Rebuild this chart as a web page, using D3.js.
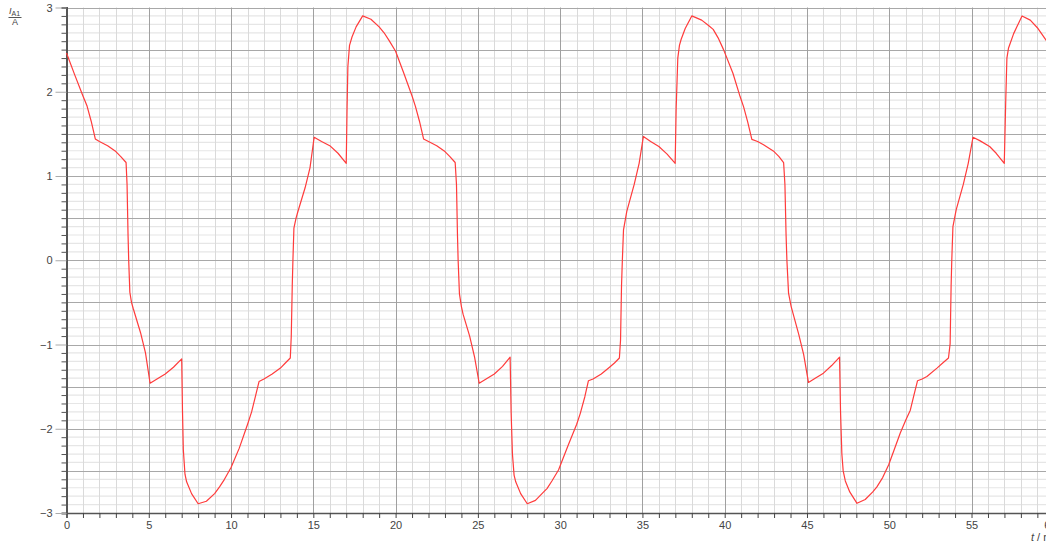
<!DOCTYPE html>
<html>
<head>
<meta charset="utf-8">
<script src="https://cdn.jsdelivr.net/npm/d3@7"></script>
<style>
  html, body { margin: 0; padding: 0; background: #fff; }
  svg { display: block; font-family: "Liberation Sans", Arial, sans-serif; }
</style>
</head>
<body>
<svg id="chart" width="1046" height="544"></svg>
<script>
// ---- data (time in ms, current in A) ----
const timeMs = [
  0, 0.5, 1.0, 1.25, 1.5, 1.75, 2.0, 2.5, 3.0, 3.3, 3.62, 3.68, 3.74, 3.78, 3.85, 3.95, 4.05, 4.5, 4.8, 5.08,
  5.5, 6.0, 6.5, 7.0, 7.05, 7.1, 7.2, 7.3, 7.6, 8.0, 8.5, 9.0, 9.3, 9.6, 10.0, 10.5, 11.0, 11.25, 11.5, 11.7,
  12.0, 12.5, 13.0, 13.3, 13.6, 13.66, 13.72, 13.76, 13.82, 13.95, 14.05, 14.5, 14.8, 15.05, 15.5, 16.0, 16.5, 17.0, 17.05, 17.1,
  17.2, 17.35, 17.6, 18.0, 18.5, 19.0, 19.3, 19.6, 20.0, 20.5, 21.0, 21.2, 21.45, 21.7, 22.0, 22.5, 23.0, 23.3, 23.62, 23.7,
  23.76, 23.8, 23.88, 24.0, 24.1, 24.5, 24.8, 25.08, 25.5, 26.0, 26.5, 26.96, 27.02, 27.1, 27.2, 27.3, 27.6, 28.0, 28.5, 29.0,
  29.2, 29.5, 29.9, 30.5, 31.0, 31.22, 31.5, 31.72, 32.0, 32.5, 33.0, 33.3, 33.6, 33.67, 33.73, 33.78, 33.85, 34.05, 34.5, 34.8,
  35.06, 35.5, 36.0, 36.5, 36.99, 37.05, 37.15, 37.25, 37.35, 37.6, 38.0, 38.6, 39.0, 39.3, 39.6, 39.93, 40.5, 40.94, 41.15, 41.4,
  41.65, 42.0, 42.36, 43.0, 43.3, 43.58, 43.66, 43.73, 43.78, 43.88, 44.04, 44.5, 44.8, 45.09, 45.5, 46.0, 46.5, 46.98, 47.04, 47.12,
  47.2, 47.33, 47.6, 48.04, 48.54, 49.0, 49.25, 49.6, 49.96, 50.3, 50.67, 51.0, 51.28, 51.5, 51.72, 52.0, 52.29, 52.9, 53.3, 53.6,
  53.7, 53.76, 53.8, 53.87, 54.07, 54.5, 54.8, 55.09, 55.5, 56.1, 56.5, 56.99, 57.08, 57.15, 57.25, 57.56, 58.07, 58.57, 59.0, 59.54,
  60.0
];
const currentA = [
  2.46, 2.2, 1.95, 1.83, 1.65, 1.44, 1.41, 1.36, 1.29, 1.23, 1.16, 0.9, 0.3, 0, -0.38, -0.5, -0.57, -0.86, -1.1, -1.46,
  -1.41, -1.35, -1.27, -1.17, -1.8, -2.25, -2.54, -2.63, -2.77, -2.89, -2.86, -2.77, -2.69, -2.6, -2.46, -2.23, -1.95, -1.8, -1.6, -1.44,
  -1.41, -1.35, -1.28, -1.22, -1.16, -0.9, -0.3, 0, 0.38, 0.5, 0.57, 0.86, 1.1, 1.46, 1.41, 1.36, 1.27, 1.15, 1.8, 2.3,
  2.55, 2.65, 2.77, 2.9, 2.86, 2.77, 2.7, 2.61, 2.48, 2.22, 1.95, 1.83, 1.65, 1.44, 1.41, 1.36, 1.29, 1.23, 1.16, 0.9,
  0.3, 0, -0.4, -0.55, -0.64, -0.9, -1.15, -1.46, -1.41, -1.35, -1.26, -1.15, -1.8, -2.3, -2.55, -2.63, -2.77, -2.89, -2.85, -2.75,
  -2.71, -2.62, -2.49, -2.19, -1.95, -1.82, -1.62, -1.43, -1.41, -1.35, -1.27, -1.22, -1.16, -0.95, -0.3, 0, 0.36, 0.58, 0.9, 1.15,
  1.47, 1.41, 1.35, 1.26, 1.15, 1.8, 2.4, 2.55, 2.62, 2.75, 2.9, 2.85, 2.79, 2.74, 2.64, 2.5, 2.22, 1.94, 1.82, 1.64,
  1.435, 1.41, 1.37, 1.29, 1.23, 1.16, 0.9, 0.3, 0, -0.39, -0.55, -0.88, -1.12, -1.45, -1.4, -1.34, -1.25, -1.15, -1.8, -2.3,
  -2.5, -2.62, -2.75, -2.885, -2.84, -2.75, -2.69, -2.58, -2.43, -2.25, -2.05, -1.9, -1.78, -1.6, -1.43, -1.41, -1.38, -1.28, -1.21, -1.16,
  -0.99, -0.3, 0, 0.4, 0.6, 0.9, 1.15, 1.46, 1.42, 1.35, 1.27, 1.15, 1.9, 2.4, 2.52, 2.69, 2.9, 2.85, 2.76, 2.61,
  2.47
];
const xTickLabels = [0, 5, 10, 15, 20, 25, 30, 35, 40, 45, 50, 55, 60];
const yTickLabels = [-3, -2, -1, 0, 1, 2, 3];

// ---- layout ----
const svg = d3.select("#chart");
const x = d3.scaleLinear().domain([0, 60]).range([66.5, 1053.8]);
const y = d3.scaleLinear().domain([-3, 3]).range([513, 7.5]);
const crisp = v => Math.round(v) + 0.5;

const grid = svg.append("g");
// minor horizontal lines every 0.1
grid.selectAll("line.hmin").data(d3.range(-29, 30).filter(i => i % 5 !== 0).map(i => i / 10))
  .join("line").attr("class", "hmin")
  .attr("x1", x(0)).attr("x2", 1046)
  .attr("y1", d => y(d)).attr("y2", d => y(d))
  .attr("stroke", "#e6e6e6").attr("stroke-width", 1.2);
// minor vertical lines every 1 ms
grid.selectAll("line.vmin").data(d3.range(1, 61).filter(i => i % 5 !== 0))
  .join("line").attr("class", "vmin")
  .attr("x1", d => crisp(x(d))).attr("x2", d => crisp(x(d)))
  .attr("y1", y(3)).attr("y2", y(-3))
  .attr("stroke", "#dadada").attr("stroke-width", 1);
// major horizontal every 0.5
grid.selectAll("line.hmaj").data(d3.range(-5, 7).map(i => i / 2))
  .join("line").attr("class", "hmaj")
  .attr("x1", x(0)).attr("x2", 1046)
  .attr("y1", d => crisp(y(d))).attr("y2", d => crisp(y(d)))
  .attr("stroke", "#a8a8a8").attr("stroke-width", 1);
// major vertical every 5 ms
grid.selectAll("line.vmaj").data(xTickLabels.filter(d => d > 0))
  .join("line").attr("class", "vmaj")
  .attr("x1", d => crisp(x(d))).attr("x2", d => crisp(x(d)))
  .attr("y1", y(3)).attr("y2", y(-3))
  .attr("stroke", "#a0a0a0").attr("stroke-width", 1);

// ---- axes ----
const xAxis = d3.axisBottom(x)
  .tickValues(d3.range(0, 61))
  .tickSize(5).tickPadding(3)
  .tickFormat(d => xTickLabels.includes(d) ? d : "");
const gx = svg.append("g").attr("transform", `translate(0,${y(-3)})`).call(xAxis);
gx.select(".domain").attr("stroke", "#555").attr("stroke-width", 1.5);
gx.selectAll(".tick line").attr("stroke", "#444");
gx.selectAll(".tick text").attr("fill", "#444").attr("font-size", 11)
  .attr("font-family", "Liberation Sans, Arial, sans-serif");
gx.selectAll(".tick").filter(d => d === 60).select("text")
  .attr("text-anchor", "start").attr("x", -10);

const yAxis = d3.axisLeft(y)
  .tickValues(d3.range(-30, 31).map(i => i / 10))
  .tickSize(5).tickPadding(9)
  .tickFormat(d => yTickLabels.includes(Math.round(d * 10) / 10) && Number.isInteger(Math.round(d * 10) / 10) ? d3.format("d")(d) : "");
const gy = svg.append("g").attr("transform", `translate(${x(0)},0)`).call(yAxis);
gy.select(".domain").attr("stroke", "#555").attr("stroke-width", 2);
gy.selectAll(".tick line").attr("stroke", "#555");
gy.selectAll(".tick").filter(d => Math.abs(d - Math.round(d)) < 1e-6)
  .select("line").attr("x2", -11).attr("stroke", "#aaa");
gy.selectAll(".tick text").attr("fill", "#444").attr("font-size", 11)
  .attr("font-family", "Liberation Sans, Arial, sans-serif");

// ---- series ----
const line = d3.line().x((d, i) => x(timeMs[i])).y(d => y(d));
svg.append("path").datum(currentA)
  .attr("d", line)
  .attr("fill", "none")
  .attr("stroke", "#ff3b3b")
  .attr("stroke-width", 1.2)
  .attr("stroke-linejoin", "round");

// ---- axis titles ----
const yt = svg.append("g").attr("fill", "#444").attr("font-family", "Liberation Sans, Arial, sans-serif");
const tI = yt.append("text").attr("x", 9).attr("y", 14).attr("font-size", 9);
tI.append("tspan").attr("font-style", "italic").text("I");
tI.append("tspan").attr("font-size", 7).attr("dy", 1.5).text("A1");
yt.append("line").attr("x1", 8.5).attr("x2", 21.5).attr("y1", 17.5).attr("y2", 17.5)
  .attr("stroke", "#555").attr("stroke-width", 1);
yt.append("text").attr("x", 15).attr("y", 25).attr("font-size", 9).attr("text-anchor", "middle").text("A");

const xt = svg.append("text").attr("x", 1031).attr("y", 541).attr("font-size", 11)
  .attr("fill", "#444").attr("font-family", "Liberation Sans, Arial, sans-serif");
xt.append("tspan").attr("font-style", "italic").text("t");
xt.append("tspan").text(" / ms");
</script>
</body>
</html>
